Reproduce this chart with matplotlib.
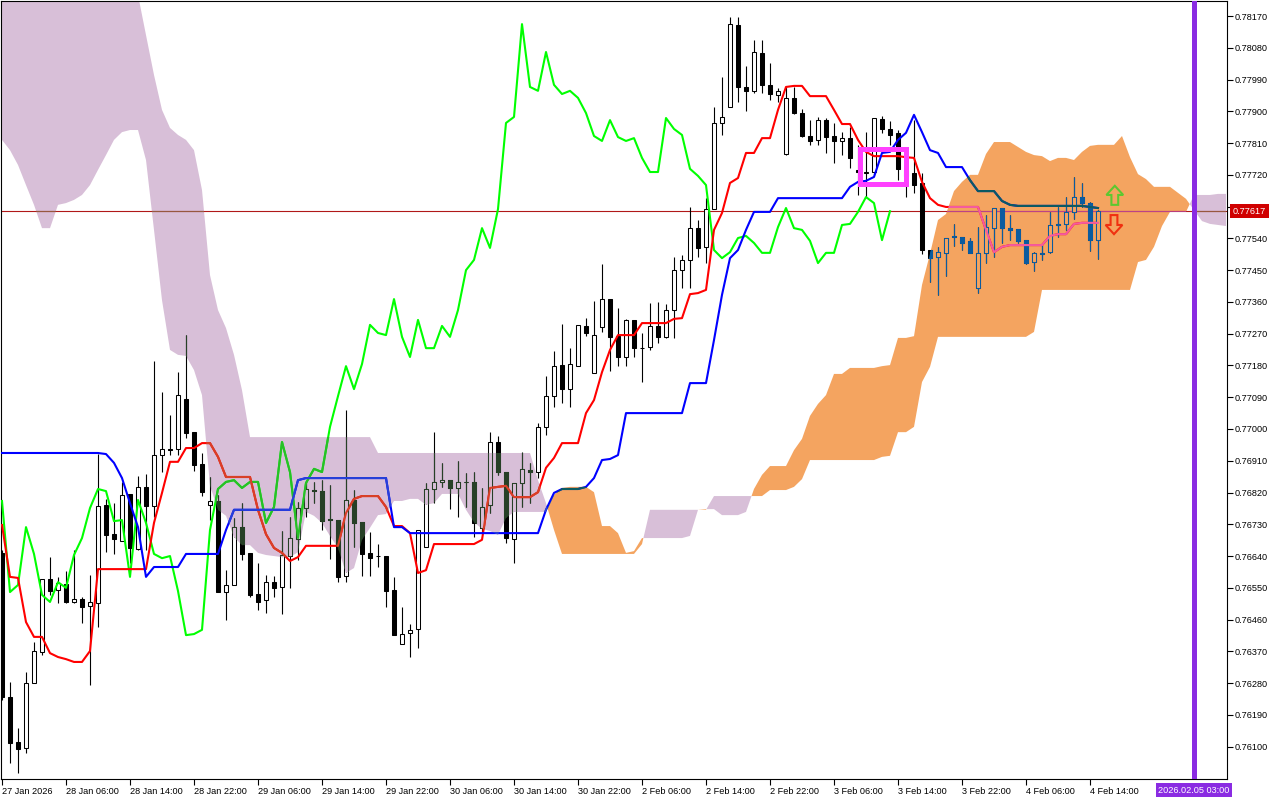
import numpy as np
import matplotlib.pyplot as plt
import matplotlib.transforms as mtransforms
from matplotlib.colors import to_rgb
from matplotlib.path import Path
from matplotlib.patches import Rectangle, FancyArrow

plt.rcParams['font.family'] = ['Liberation Sans', 'DejaVu Sans']

# hourly candles, 27 Jan 22:00 .. 4 Feb 15:00
opens = [0.76649, 0.76241, 0.76113, 0.76096, 0.76280, 0.76368, 0.76575, 0.76544, 0.76561, 0.76510,
         0.76518, 0.76499, 0.76507, 0.76785, 0.76702, 0.76683, 0.76816, 0.76660, 0.76836, 0.76782,
         0.76926, 0.76943, 0.76943, 0.77085, 0.76991, 0.76901, 0.76785, 0.76796, 0.76538, 0.76558,
         0.76722, 0.76649, 0.76533, 0.76516, 0.76566, 0.76552, 0.76640, 0.76688, 0.76776, 0.76827,
         0.76824, 0.76745, 0.76742, 0.76583, 0.76799, 0.76736, 0.76649, 0.76640, 0.76640, 0.76544,
         0.76391, 0.76422, 0.76433, 0.76666, 0.76830, 0.76850, 0.76855, 0.76833, 0.76850, 0.76850,
         0.76720, 0.76785, 0.76963, 0.76878, 0.76688, 0.76847, 0.76884, 0.76878, 0.77006, 0.77093,
         0.77181, 0.77113, 0.77178, 0.77292, 0.77159, 0.77289, 0.77368, 0.77263, 0.77204, 0.77309,
         0.77229, 0.77232, 0.77292, 0.77261, 0.77337, 0.77450, 0.77479, 0.77569, 0.77516, 0.77623,
         0.77867, 0.77912, 0.78145, 0.77969, 0.77958, 0.78065, 0.77975, 0.77946, 0.77779, 0.77938,
         0.77895, 0.77830, 0.77819, 0.77875, 0.77830, 0.77816, 0.77824, 0.77734, 0.77725, 0.77728,
         0.77878, 0.77850, 0.77839, 0.77734, 0.77725, 0.77697, 0.77507, 0.77487, 0.77499, 0.77544,
         0.77544, 0.77533, 0.77399, 0.77499, 0.77569, 0.77626, 0.77569, 0.77567, 0.77535, 0.77473,
         0.77496, 0.77501, 0.77578, 0.77581, 0.77615, 0.77657, 0.77640, 0.77535]
highs = [0.76657, 0.76283, 0.76153, 0.76312, 0.76397, 0.76575, 0.76637, 0.76581, 0.76598, 0.76657,
         0.76524, 0.76586, 0.76929, 0.76802, 0.76790, 0.76850, 0.76816, 0.76867, 0.76872, 0.77193,
         0.77105, 0.77040, 0.77161, 0.77266, 0.76991, 0.76932, 0.76864, 0.76813, 0.76600, 0.76748,
         0.76790, 0.76649, 0.76620, 0.76586, 0.76583, 0.76711, 0.76751, 0.76793, 0.76850, 0.76850,
         0.76855, 0.76841, 0.76742, 0.77054, 0.76827, 0.76736, 0.76708, 0.76674, 0.76640, 0.76581,
         0.76496, 0.76448, 0.76714, 0.76847, 0.76991, 0.76904, 0.76855, 0.76909, 0.76875, 0.76878,
         0.76833, 0.76991, 0.76980, 0.76878, 0.76847, 0.76935, 0.76904, 0.77017, 0.77150, 0.77221,
         0.77297, 0.77229, 0.77295, 0.77314, 0.77363, 0.77467, 0.77368, 0.77343, 0.77312, 0.77309,
         0.77272, 0.77357, 0.77360, 0.77354, 0.77487, 0.77493, 0.77629, 0.77592, 0.77654, 0.77912,
         0.77997, 0.78167, 0.78167, 0.78028, 0.78102, 0.78102, 0.78037, 0.77966, 0.77969, 0.77969,
         0.77907, 0.77875, 0.77884, 0.77881, 0.77867, 0.77841, 0.77856, 0.77805, 0.77841, 0.77881,
         0.77887, 0.77873, 0.77847, 0.77739, 0.77875, 0.77725, 0.77507, 0.77516, 0.77541, 0.77581,
         0.77544, 0.77541, 0.77572, 0.77606, 0.77626, 0.77626, 0.77606, 0.77567, 0.77535, 0.77501,
         0.77521, 0.77615, 0.77629, 0.77657, 0.77714, 0.77697, 0.77643, 0.77620]
lows = [0.76232, 0.76054, 0.76025, 0.76082, 0.76280, 0.76360, 0.76530, 0.76507, 0.76507, 0.76507,
        0.76450, 0.76275, 0.76439, 0.76651, 0.76646, 0.76683, 0.76620, 0.76657, 0.76657, 0.76751,
        0.76878, 0.76926, 0.76926, 0.76974, 0.76881, 0.76810, 0.76742, 0.76538, 0.76459, 0.76558,
        0.76629, 0.76524, 0.76487, 0.76479, 0.76524, 0.76476, 0.76550, 0.76629, 0.76751, 0.76790,
        0.76714, 0.76632, 0.76566, 0.76566, 0.76666, 0.76583, 0.76583, 0.76609, 0.76496, 0.76416,
        0.76391, 0.76354, 0.76380, 0.76666, 0.76790, 0.76836, 0.76773, 0.76751, 0.76779, 0.76694,
        0.76708, 0.76762, 0.76870, 0.76677, 0.76620, 0.76779, 0.76790, 0.76861, 0.76983, 0.77062,
        0.77074, 0.77062, 0.77178, 0.77263, 0.77159, 0.77275, 0.77164, 0.77178, 0.77178, 0.77204,
        0.77133, 0.77224, 0.77244, 0.77258, 0.77258, 0.77399, 0.77399, 0.77487, 0.77470, 0.77623,
        0.77833, 0.77912, 0.77926, 0.77901, 0.77952, 0.77952, 0.77932, 0.77926, 0.77776, 0.77892,
        0.77827, 0.77805, 0.77805, 0.77782, 0.77754, 0.77776, 0.77739, 0.77663, 0.77657, 0.77720,
        0.77839, 0.77805, 0.77705, 0.77657, 0.77669, 0.77496, 0.77416, 0.77380, 0.77433, 0.77518,
        0.77507, 0.77499, 0.77385, 0.77470, 0.77487, 0.77527, 0.77535, 0.77527, 0.77467, 0.77448,
        0.77479, 0.77499, 0.77544, 0.77564, 0.77595, 0.77629, 0.77504, 0.77482]
closes = [0.76241, 0.76110, 0.76093, 0.76280, 0.76371, 0.76575, 0.76541, 0.76564, 0.76510, 0.76518,
          0.76496, 0.76510, 0.76782, 0.76700, 0.76688, 0.76813, 0.76663, 0.76836, 0.76782, 0.76926,
          0.76943, 0.76940, 0.77096, 0.76989, 0.76898, 0.76821, 0.76796, 0.76538, 0.76558, 0.76722,
          0.76646, 0.76530, 0.76510, 0.76566, 0.76550, 0.76643, 0.76691, 0.76776, 0.76830, 0.76824,
          0.76739, 0.76742, 0.76581, 0.76799, 0.76734, 0.76646, 0.76634, 0.76640, 0.76541, 0.76416,
          0.76419, 0.76431, 0.76714, 0.76830, 0.76850, 0.76855, 0.76833, 0.76850, 0.76850, 0.76734,
          0.76779, 0.76963, 0.76878, 0.76691, 0.76847, 0.76887, 0.76878, 0.77006, 0.77093, 0.77178,
          0.77113, 0.77184, 0.77295, 0.77272, 0.77266, 0.77368, 0.77261, 0.77204, 0.77309, 0.77229,
          0.77229, 0.77292, 0.77261, 0.77337, 0.77450, 0.77479, 0.77569, 0.77513, 0.77623, 0.77867,
          0.77884, 0.78147, 0.77969, 0.77958, 0.78068, 0.77975, 0.77949, 0.77958, 0.77938, 0.77895,
          0.77830, 0.77816, 0.77875, 0.77827, 0.77816, 0.77824, 0.77768, 0.77728, 0.77728, 0.77881,
          0.77850, 0.77833, 0.77737, 0.77717, 0.77691, 0.77507, 0.77484, 0.77501, 0.77541, 0.77547,
          0.77527, 0.77499, 0.77499, 0.77572, 0.77626, 0.77569, 0.77564, 0.77533, 0.77470, 0.77499,
          0.77499, 0.77578, 0.77581, 0.77615, 0.77657, 0.77640, 0.77535, 0.77617]

# Tenkan-sen (knots where the line changes direction)
tenkan_bars = [0, 1, 2, 3, 4, 5, 6, 7, 8, 9, 10, 11, 12,
               18, 19, 20, 21, 22, 23, 24, 25, 26, 27, 28,
               31, 32, 33, 34, 35, 36, 37, 38,
               42, 43, 44, 45,
               47, 48, 49, 50, 51, 52, 53, 54,
               59, 60, 61, 63, 64, 66, 67, 68, 69, 70,
               72, 73, 74, 75, 76, 77, 79, 80,
               83, 84, 85, 86, 87, 88, 89, 90, 91, 92, 93, 94, 95, 96, 97, 98, 99, 100, 101,
               103, 104, 105, 106, 107, 108, 109,
               112, 113, 114, 115, 116, 117, 118,
               122, 123, 124, 125, 126,
               130, 131, 132, 133, 134, 135, 137]
tenkan = [0.76728, 0.76581, 0.76578, 0.76453, 0.76411, 0.76411, 0.76365, 0.76354, 0.76348, 0.76340, 0.76340, 0.76371, 0.76603,
          0.76603, 0.76734, 0.76819, 0.76907, 0.76907, 0.76946, 0.76946, 0.76960, 0.76960, 0.76921, 0.76864,
          0.76864, 0.76771, 0.76702, 0.76663, 0.76649, 0.76626, 0.76637, 0.76669,
          0.76669, 0.76762, 0.76802, 0.76810,
          0.76810, 0.76779, 0.76725, 0.76725, 0.76705, 0.76592, 0.76600, 0.76674,
          0.76674, 0.76686, 0.76833, 0.76839, 0.76807, 0.76807, 0.76821, 0.76890, 0.76918, 0.76960,
          0.76960, 0.77045, 0.77082, 0.77161, 0.77224, 0.77266, 0.77266, 0.77300,
          0.77300, 0.77312, 0.77314, 0.77382, 0.77385, 0.77394, 0.77564, 0.77612, 0.77697, 0.77711, 0.77782,
          0.77782, 0.77824, 0.77824, 0.77904, 0.77969, 0.77972, 0.77972, 0.77943,
          0.77943, 0.77904, 0.77864, 0.77864, 0.77819, 0.77785, 0.77773,
          0.77773, 0.77770, 0.77768, 0.77700, 0.77654, 0.77635, 0.77629,
          0.77629, 0.77564, 0.77501, 0.77516, 0.77521,
          0.77521, 0.77547, 0.77552, 0.77552, 0.77581, 0.77584, 0.77584]

# Kijun-sen
kijun_bars = [0, 12, 13, 14, 15, 16, 17, 18, 19, 22,
              23, 27, 28, 29, 36, 37, 38, 48, 49, 50,
              51, 67, 68, 69, 70, 72, 73, 74, 75, 76,
              77, 78, 85, 86, 88, 89, 90, 91, 92, 93,
              94, 96, 97, 105, 106, 107, 108, 109, 110, 111,
              112, 113, 114, 115, 116, 117, 118, 120, 121, 122,
              124, 125, 126, 127, 135, 136, 137]
kijun = [0.76932, 0.76932, 0.76929, 0.76904, 0.76861, 0.76790, 0.76722, 0.76581, 0.76609, 0.76609,
         0.76646, 0.76646, 0.76714, 0.76771, 0.76771, 0.76855, 0.76861, 0.76861, 0.76722, 0.76722,
         0.76705, 0.76705, 0.76771, 0.76819, 0.76830, 0.76830, 0.76836, 0.76861, 0.76912, 0.76915,
         0.76926, 0.77045, 0.77045, 0.77130, 0.77130, 0.77252, 0.77380, 0.77484, 0.77507, 0.77564,
         0.77615, 0.77615, 0.77654, 0.77654, 0.77686, 0.77700, 0.77703, 0.77714, 0.77782, 0.77785,
         0.77819, 0.77839, 0.77890, 0.77841, 0.77790, 0.77782, 0.77742, 0.77742, 0.77705, 0.77674,
         0.77674, 0.77646, 0.77635, 0.77632, 0.77632, 0.77629, 0.77626]

# Senkou span A / B, one value per bar (already shifted 26 bars ahead)
span_a = [0.77819, 0.77790, 0.77748, 0.77691, 0.77635, 0.77569, 0.77569, 0.77635, 0.77640, 0.77649,
          0.77663, 0.77691, 0.77734, 0.77776, 0.77819, 0.77841, 0.77847, 0.77847, 0.77762, 0.77564,
          0.77365, 0.77224, 0.77210, 0.77207, 0.77167, 0.77096, 0.76839, 0.76771, 0.76754, 0.76694,
          0.76671, 0.76671, 0.76649, 0.76643, 0.76640, 0.76637, 0.76637, 0.76651, 0.76765, 0.76754,
          0.76734, 0.76697, 0.76663, 0.76592, 0.76606, 0.76686, 0.76720, 0.76756, 0.76759, 0.76796,
          0.76796, 0.76802, 0.76802, 0.76785, 0.76790, 0.76816, 0.76816, 0.76816, 0.76771, 0.76736,
          0.76717, 0.76711, 0.76700, 0.76748, 0.76765, 0.76765, 0.76765, 0.76765, 0.76765, 0.76813,
          0.76833, 0.76836, 0.76836, 0.76836, 0.76821, 0.76725, 0.76725, 0.76705, 0.76649, 0.76654,
          0.76691, 0.76691, 0.76691, 0.76691, 0.76691, 0.76691, 0.76697, 0.76771, 0.76773, 0.76773,
          0.76756, 0.76756, 0.76756, 0.76765, 0.76830, 0.76870, 0.76895, 0.76895, 0.76895, 0.76940,
          0.76972, 0.77037, 0.77071, 0.77096, 0.77156, 0.77156, 0.77173, 0.77173, 0.77173, 0.77173,
          0.77178, 0.77181, 0.77258, 0.77258, 0.77263, 0.77408, 0.77496, 0.77592, 0.77609, 0.77674,
          0.77700, 0.77720, 0.77720, 0.77779, 0.77813, 0.77813, 0.77813, 0.77799, 0.77785, 0.77776,
          0.77773, 0.77759, 0.77768, 0.77768, 0.77762, 0.77785, 0.77802, 0.77805, 0.77805, 0.77805,
          0.77830, 0.77770, 0.77722, 0.77708, 0.77686, 0.77686, 0.77686, 0.77669, 0.77652, 0.77620,
          0.77589, 0.77581, 0.77578, 0.77575]
span_b = ([0.78385] * 17
          + [0.78230, 0.78116, 0.78003, 0.77904, 0.77853, 0.77833, 0.77819, 0.77790, 0.77677, 0.77436,
             0.77337, 0.77286, 0.77210, 0.77110]
          + [0.76977] * 16 + [0.76932] * 20 + [0.76855, 0.76790, 0.76714]
          + [0.76646] * 10 + [0.76674] + [0.76771] * 8 + [0.76810] * 7 + [0.76827] * 3
          + [0.76836, 0.76858] + [0.76912] * 9
          + [0.76921, 0.76924, 0.76991, 0.76991, 0.77006, 0.77133, 0.77176]
          + [0.77261] * 12 + [0.77275] + [0.77394] * 12
          + [0.77473, 0.77479, 0.77516, 0.77575] + [0.77615] * 3 + [0.77663] * 3 + [0.77666] * 2)

chikou_shift = 26
price_now = 0.77617
future_bar = 149  # 2026.02.05 03:00
box_bars = (107.19, 112.94)
box_prices = (0.77693, 0.77792)
arrow_up = (139.1, 0.77635)
arrow_down = (139.0, 0.77606)

ytick_vals = [0.78170, 0.78080, 0.77990, 0.77900, 0.77810, 0.77720, 0.77630, 0.77540, 0.77450,
              0.77360, 0.77270, 0.77180, 0.77090, 0.77000, 0.76910, 0.76820, 0.76730, 0.76640,
              0.76550, 0.76460, 0.76370, 0.76280, 0.76190, 0.76100]
xtick_bars = [0, 8, 16, 24, 32, 40, 48, 56, 64, 72, 80, 88, 96, 104, 112, 120, 128, 136]
xtick_labels = ['27 Jan 2026', '28 Jan 06:00', '28 Jan 14:00', '28 Jan 22:00', '29 Jan 06:00',
                '29 Jan 14:00', '29 Jan 22:00', '30 Jan 06:00', '30 Jan 14:00', '30 Jan 22:00',
                '2 Feb 06:00', '2 Feb 14:00', '2 Feb 22:00', '3 Feb 06:00', '3 Feb 14:00',
                '3 Feb 22:00', '4 Feb 06:00', '4 Feb 14:00']

o = np.array(opens)
h = np.array(highs)
l = np.array(lows)
c = np.array(closes)
x = np.arange(len(c))
sa = np.array(span_a)
sb = np.array(span_b)
cx = np.arange(len(sa))

fig = plt.figure(figsize=(12.8, 8), dpi=100)
ax = fig.add_axes([1 / 1280, 21 / 800, 1226 / 1280, 778 / 800])
ax.set_xlim(-0.125, 153.125)
ax.set_ylim(0.760084, 0.782125)

THISTLE = '#D8BFD8'
SANDY = '#F4A460'
thistle = ax.fill_between(cx, sa, sb, where=sa < sb, interpolate=True, color=THISTLE, lw=0, zorder=1)
sandy = ax.fill_between(cx, sa, sb, where=sa >= sb, interpolate=True, color=SANDY, lw=0, zorder=1)


def xor_with(cloud):
    # MT4 paints the cloud in XOR mode, so things inside it change colour
    k = 255 - np.round(np.array(to_rgb(cloud)) * 255).astype(int)

    def f(col):
        v = np.round(np.array(to_rgb(col)) * 255).astype(int)
        return tuple((v ^ k) / 255)
    return f


def draw_layer(col, z, clip=None):
    arts = [ax.axhline(price_now, color=col('#B01818'), lw=0.8, zorder=z)]
    arts.append(ax.vlines(x, l, h, colors=[col('black')], lw=0.8, zorder=z + 1))
    bull = c >= o
    bars = ax.bar(x, np.abs(c - o), bottom=np.minimum(o, c), width=0.55,
                  color=[col('white') if b else col('black') for b in bull],
                  edgecolor=col('black'), lw=0.75, zorder=z + 2)
    arts.extend(bars.patches)
    arts += ax.plot(x[:len(c) - chikou_shift], c[chikou_shift:], color=col('#00FF00'), lw=1.5, zorder=z + 3)
    arts += ax.plot(tenkan_bars, tenkan, color=col('#FF0000'), lw=1.5, zorder=z + 3)
    arts += ax.plot(kijun_bars, kijun, color=col('#0000FF'), lw=1.5, zorder=z + 3)
    if clip is not None:
        for a in arts:
            a.set_clip_path(clip, ax.transData)


draw_layer(lambda cc: cc, 2)
draw_layer(xor_with(THISTLE), 10, Path.make_compound_path(*thistle.get_paths()))
draw_layer(xor_with(SANDY), 20, Path.make_compound_path(*sandy.get_paths()))

ax.axvline(future_bar, color='#8A2BE2', lw=3.6, zorder=40)
ax.add_patch(Rectangle((box_bars[0], box_prices[0]), box_bars[1] - box_bars[0],
                       box_prices[1] - box_prices[0], fill=False, ec='#FF40FF', lw=3.6,
                       joinstyle='miter', zorder=40))
ax.add_patch(FancyArrow(arrow_up[0], arrow_up[1], 0, 0.00054, width=0.85, head_width=2.1,
                        head_length=0.00026, length_includes_head=True, fill=False,
                        ec='#5CC830', lw=1.5, zorder=40))
ax.add_patch(FancyArrow(arrow_down[0], arrow_down[1], 0, -0.00054, width=0.85, head_width=2.1,
                        head_length=0.00026, length_includes_head=True, fill=False,
                        ec='#F03010', lw=1.5, zorder=40))

for sp in ax.spines.values():
    sp.set_linewidth(0.8)
    sp.set_color('black')

ax.yaxis.tick_right()
ax.set_yticks(ytick_vals)
# the current-price tag sits on top of the 0.77630 label, as in the terminal
ax.set_yticklabels(['' if abs(v - price_now) < 0.0003 else f'{v:.5f}' for v in ytick_vals])
ax.tick_params(axis='y', direction='out', length=4, width=0.8, pad=1.5, labelsize=6.6)
ax.set_xticks(xtick_bars)
ax.set_xticklabels(xtick_labels)
ax.tick_params(axis='x', direction='out', length=4, width=0.8, pad=2, labelsize=6.6)
for lab in ax.get_xticklabels():
    lab.set_horizontalalignment('left')

right_tr = mtransforms.blended_transform_factory(ax.transAxes, ax.transData)
ax.text(1.0049, price_now, f'{price_now:.5f}', transform=right_tr, ha='left', va='center',
        color='white', fontsize=6.6, clip_on=False, zorder=60,
        bbox=dict(boxstyle='square,pad=0.3', fc='#D00000', ec='none'))
bottom_tr = mtransforms.blended_transform_factory(ax.transData, ax.transAxes)
ax.text(future_bar, -0.0085, '2026.02.05 03:00', transform=bottom_tr, ha='center', va='top',
        color='white', fontsize=6.6, clip_on=False, zorder=60,
        bbox=dict(boxstyle='square,pad=0.3', fc='#8A2BE2', ec='none'))

fig.savefig('out.png', dpi=100)
